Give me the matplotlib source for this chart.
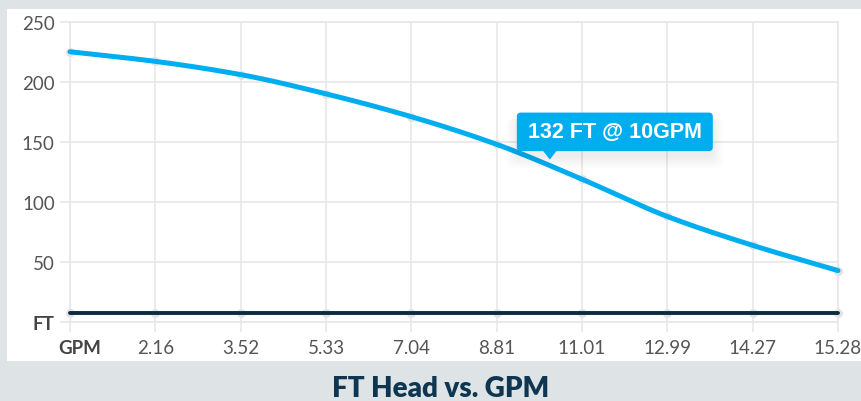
import numpy as np
import matplotlib
matplotlib.use("Agg")
import matplotlib.pyplot as plt
from matplotlib.patches import Rectangle, FancyBboxPatch, Polygon
import matplotlib.transforms as mtransforms

# ---- data ----
categories = ["GPM", "2.16", "3.52", "5.33", "7.04", "8.81", "11.01", "12.99", "14.27", "15.28"]
gpm_values = [0, 2.16, 3.52, 5.33, 7.04, 8.81, 11.01, 12.99, 14.27, 15.28]
head_ft = [225, 217, 206, 190, 171, 148, 119, 88, 64, 43]
baseline_ft = [8, 8, 8, 8, 8, 8, 8, 8, 8, 8]
y_ticks = [0, 50, 100, 150, 200, 250]
y_tick_labels = ["FT", "50", "100", "150", "200", "250"]
tooltip_gpm = 10
tooltip_ft = 132
title = "FT Head vs. GPM"

plt.rcParams['font.family'] = ['Lato', 'DejaVu Sans']

W, H = 862, 402
fig = plt.figure(figsize=(W / 100, H / 100), dpi=100, facecolor='#dee3e6')
fig.patches.append(Rectangle((7 / W, 1 - 362 / H), 855 / W, 352 / H,
                             transform=fig.transFigure, facecolor='white',
                             edgecolor='none', zorder=-5))

ax = fig.add_axes([70 / W, 1 - 323.3 / H, 768 / W, (323.3 - 22.7) / H])
ax.set_facecolor('white')
ax.set_zorder(1)


def monotone_curve(x, y, n=30):
    x = np.asarray(x, float)
    y = np.asarray(y, float)
    h = np.diff(x)
    d = np.diff(y) / h
    m = np.zeros_like(y)
    m[0], m[-1] = d[0], d[-1]
    for i in range(1, len(y) - 1):
        if d[i - 1] * d[i] <= 0:
            m[i] = 0
        else:
            w1 = 2 * h[i] + h[i - 1]
            w2 = h[i] + 2 * h[i - 1]
            m[i] = (w1 + w2) / (w1 / d[i - 1] + w2 / d[i])
    xs, ys = [], []
    for i in range(len(x) - 1):
        t = np.linspace(0, 1, n, endpoint=(i == len(x) - 2))
        h00 = 2 * t**3 - 3 * t**2 + 1
        h10 = t**3 - 2 * t**2 + t
        h01 = -2 * t**3 + 3 * t**2
        h11 = t**3 - t**2
        xs.append(x[i] + t * h[i])
        ys.append(h00 * y[i] + h10 * h[i] * m[i] + h01 * y[i + 1] + h11 * h[i] * m[i + 1])
    return np.concatenate(xs), np.concatenate(ys)


xpos = np.arange(len(categories))
grid_c = '#e6e6e6'

# grey point markers
ax.plot(xpos, head_ft, 'o', ms=6.5, color='#e3e3e3', mec='none', zorder=2, clip_on=False)
ax.plot(xpos, baseline_ft, 'o', ms=6.5, color='#e3e3e3', mec='none', zorder=2, clip_on=False)

sx, sy = monotone_curve(xpos, head_ft)
ax.plot(sx, sy, color='#00aeef', lw=3.6, solid_capstyle='round', zorder=4, clip_on=False)
bx, by = monotone_curve(xpos, baseline_ft)
ax.plot(bx, by, color='#0b2b40', lw=2.8, solid_capstyle='round', zorder=3, clip_on=False)

ax.set_xlim(0, len(categories) - 1)
ax.set_ylim(0, 250)
ax.set_xticks(xpos)
ax.set_xticklabels(categories)
ax.set_yticks(y_ticks)
ax.set_yticklabels(y_tick_labels)
ax.grid(True, color=grid_c, lw=1.1, zorder=0)
ax.set_axisbelow(True)
for s in ax.spines.values():
    s.set_color(grid_c)
    s.set_linewidth(1.1)
ax.tick_params(axis='both', length=7, width=1.1, color=grid_c, labelsize=13.5,
               labelcolor='#555555')
ax.tick_params(axis='y', pad=4)
ax.tick_params(axis='x', pad=5)
ylab0 = ax.get_yticklabels()[0]
ylab0.set_fontweight('bold')
ylab0.set_color('#444444')
xlab0 = ax.get_xticklabels()[0]
xlab0.set_fontweight('bold')
xlab0.set_color('#444444')
xlab0.set_transform(xlab0.get_transform() +
                    mtransforms.ScaledTranslation(10 / 100, 0, fig.dpi_scale_trans))

# tooltip
xg = np.interp(tooltip_gpm, gpm_values, xpos)
fig.canvas.draw()
px, py = ax.transData.transform((xg, tooltip_ft))
tip = (px + 7, py + 4)
tr = mtransforms.Affine2D().translate(*tip)
for k in range(6):
    fig.patches.append(FancyBboxPatch((-33 - k * 2, 8 - 6 - k * 2), 196 + k * 4, 39 + k * 2,
                                      boxstyle="round,pad=0,rounding_size=6",
                                      transform=tr, facecolor='black', alpha=0.012,
                                      edgecolor='none', zorder=5))
fig.patches.append(FancyBboxPatch((-33, 8.5), 196, 38.5,
                                  boxstyle="round,pad=0,rounding_size=4",
                                  transform=tr, facecolor='#00aeef', edgecolor='none', zorder=6))
fig.patches.append(Polygon([(-7, 9), (7, 9), (0, 0)], closed=True, transform=tr,
                           facecolor='#00aeef', edgecolor='none', zorder=6))
fig.text(65, 28, f"{tooltip_ft} FT @ {tooltip_gpm}GPM", transform=tr, ha='center', va='center',
         fontsize=15.5, fontweight='bold', color='white', family='Liberation Sans', zorder=7)

fig.text(441 / W, 1 - 389 / H, title, ha='center', va='center', fontsize=20,
         fontweight='heavy', color='#0e3651')

fig.savefig('out.png', dpi=100, facecolor=fig.get_facecolor())
